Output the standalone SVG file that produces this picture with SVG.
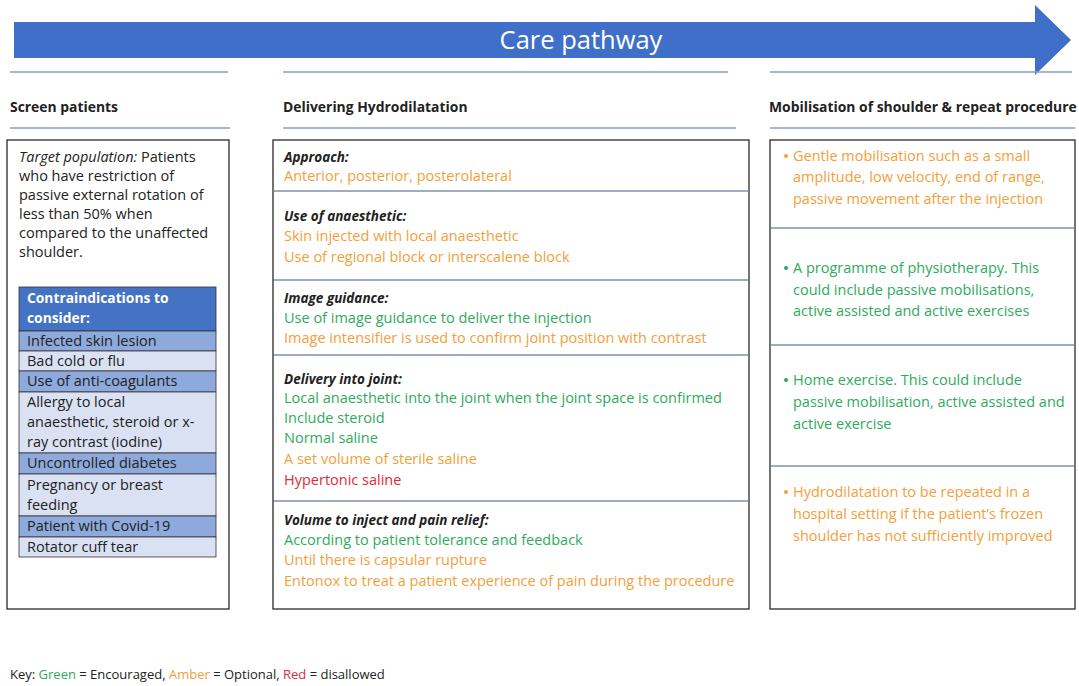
<svg xmlns="http://www.w3.org/2000/svg" width="1079" height="686" viewBox="0 0 1079 686">
<style>
text{font-family:"Open Sans","Liberation Sans",sans-serif;font-size:14.5px;fill:#222}
.h{font-weight:bold;font-size:13.9px}
.bi{font-weight:bold;font-style:italic;font-size:13.5px;fill:#222}
.o{fill:#F2A03A}
.g{fill:#2FAA5E}
.r{fill:#E3283A}
.sep{stroke:#8C9DBA;stroke-width:1.5}
.div{stroke:#7F8FAF;stroke-width:1.5}
.box{fill:#fff;stroke:#2a2a2a;stroke-width:1.3}
.th{fill:#4472C4;stroke:#333;stroke-width:0.8}
.tm{fill:#8EA9DB;stroke:#333;stroke-width:0.8}
.tl{fill:#D9E1F2;stroke:#333;stroke-width:0.8}
.wt{fill:#fff;font-weight:bold;font-size:13.8px}
.dot-o{fill:#F2A03A}
.dot-g{fill:#2FAA5E}
</style>
<rect width="1079" height="686" fill="#fff"/>
<g id="banner">
<polygon points="14,22 1035,22 1035,5 1071,40 1035,75 1035,58 14,58" fill="#3F6FC8"/>
<text x="581" y="49" text-anchor="middle" style="font-size:25.5px;fill:#fff">Care pathway</text>
</g>
<g id="rules">
<line class="sep" x1="10" y1="72" x2="228" y2="72"/>
<line class="sep" x1="283" y1="72" x2="728" y2="72"/>
<line class="sep" x1="770" y1="72" x2="1072" y2="72"/>
<line class="sep" x1="10" y1="128" x2="230" y2="128"/>
<line class="sep" x1="283" y1="128" x2="736" y2="128"/>
<line class="sep" x1="770" y1="128" x2="1075" y2="128"/>
</g>
<g id="headings">
<text class="h" x="10" y="112">Screen patients</text>
<text class="h" x="283" y="112">Delivering Hydrodilatation</text>
<text class="h" x="769" y="112">Mobilisation of shoulder &amp; repeat procedure</text>
</g>
<g id="screen-patients">
<rect class="box" x="7" y="140" width="222" height="469"/>
<text x="19" y="162"><tspan font-style="italic">Target population:</tspan> Patients</text>
<text x="19" y="181">who have restriction of</text>
<text x="19" y="200">passive external rotation of</text>
<text x="19" y="219">less than 50% when</text>
<text x="19" y="238">compared to the unaffected</text>
<text x="19" y="257">shoulder.</text>
<g id="contraindications">
<rect class="th" x="19" y="287" width="197" height="44"/>
<rect class="tm" x="19" y="331" width="197" height="20"/>
<rect class="tl" x="19" y="351" width="197" height="20"/>
<rect class="tm" x="19" y="371" width="197" height="21"/>
<rect class="tl" x="19" y="392" width="197" height="61"/>
<rect class="tm" x="19" y="453" width="197" height="21"/>
<rect class="tl" x="19" y="474" width="197" height="42"/>
<rect class="tm" x="19" y="516" width="197" height="21"/>
<rect class="tl" x="19" y="537" width="197" height="20"/>
<text class="wt" x="27" y="303">Contraindications to</text>
<text class="wt" x="27" y="323">consider:</text>
<text x="27" y="346">Infected skin lesion</text>
<text x="27" y="366">Bad cold or flu</text>
<text x="27" y="386">Use of anti-coagulants</text>
<text x="27" y="407">Allergy to local</text>
<text x="27" y="427">anaesthetic, steroid or x-</text>
<text x="27" y="447">ray contrast (iodine)</text>
<text x="27" y="468">Uncontrolled diabetes</text>
<text x="27" y="490">Pregnancy or breast</text>
<text x="27" y="510">feeding</text>
<text x="27" y="531">Patient with Covid-19</text>
<text x="27" y="552">Rotator cuff tear</text>
</g>
</g>
<g id="delivering-hydrodilatation">
<rect class="box" x="273" y="140" width="476" height="469"/>
<line class="div" x1="274" y1="191" x2="748" y2="191"/>
<line class="div" x1="274" y1="280" x2="748" y2="280"/>
<line class="div" x1="274" y1="355" x2="748" y2="355"/>
<line class="div" x1="274" y1="501" x2="748" y2="501"/>
<text class="bi" x="284" y="162">Approach:</text>
<text class="o" x="284" y="181">Anterior, posterior, posterolateral</text>
<text class="bi" x="284" y="221">Use of anaesthetic:</text>
<text class="o" x="284" y="241">Skin injected with local anaesthetic</text>
<text class="o" x="284" y="262">Use of regional block or interscalene block</text>
<text class="bi" x="284" y="303">Image guidance:</text>
<text class="g" x="284" y="323">Use of image guidance to deliver the injection</text>
<text class="o" x="284" y="343">Image intensifier is used to confirm joint position with contrast</text>
<text class="bi" x="284" y="384">Delivery into joint:</text>
<text class="g" x="284" y="403">Local anaesthetic into the joint when the joint space is confirmed</text>
<text class="g" x="284" y="423">Include steroid</text>
<text class="g" x="284" y="443">Normal saline</text>
<text class="o" x="284" y="464">A set volume of sterile saline</text>
<text class="r" x="284" y="485">Hypertonic saline</text>
<text class="bi" x="284" y="525">Volume to inject and pain relief:</text>
<text class="g" x="284" y="545">According to patient tolerance and feedback</text>
<text class="o" x="284" y="565">Until there is capsular rupture</text>
<text class="o" x="284" y="586">Entonox to treat a patient experience of pain during the procedure</text>
</g>
<g id="mobilisation">
<rect class="box" x="770" y="140" width="305" height="469"/>
<line class="div" x1="771" y1="228" x2="1074" y2="228"/>
<line class="div" x1="771" y1="345" x2="1074" y2="345"/>
<line class="div" x1="771" y1="466" x2="1074" y2="466"/>
<circle class="dot-o" cx="786" cy="156" r="2"/>
<text class="o" x="793" y="161">Gentle mobilisation such as a small</text>
<text class="o" x="793" y="182">amplitude, low velocity, end of range,</text>
<text class="o" x="793" y="204">passive movement after the injection</text>
<circle class="dot-g" cx="786" cy="268" r="2"/>
<text class="g" x="793" y="273">A programme of physiotherapy. This</text>
<text class="g" x="793" y="295">could include passive mobilisations,</text>
<text class="g" x="793" y="316">active assisted and active exercises</text>
<circle class="dot-g" cx="786" cy="380" r="2"/>
<text class="g" x="793" y="385">Home exercise. This could include</text>
<text class="g" x="793" y="407">passive mobilisation, active assisted and</text>
<text class="g" x="793" y="429">active exercise</text>
<circle class="dot-o" cx="786" cy="492" r="2"/>
<text class="o" x="793" y="497">Hydrodilatation to be repeated in a</text>
<text class="o" x="793" y="519">hospital setting if the patient’s frozen</text>
<text class="o" x="793" y="541">shoulder has not sufficiently improved</text>
</g>
<g id="key">
<text x="10" y="679" style="font-size:13px">Key: <tspan class="g">Green</tspan> = Encouraged, <tspan class="o">Amber</tspan> = Optional, <tspan class="r">Red</tspan> = disallowed</text>
</g>
</svg>
